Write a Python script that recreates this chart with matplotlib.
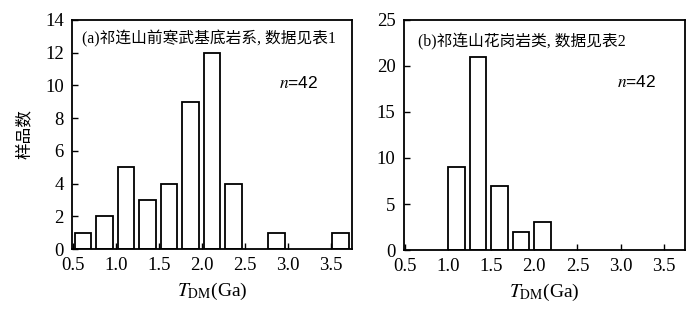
import matplotlib
matplotlib.use("Agg")
import matplotlib.pyplot as plt

plt.rcParams["font.family"] = ["Liberation Serif", "Noto Sans CJK SC"]
plt.rcParams["mathtext.fontset"] = "stix"

# bin left edges (Ga) and sample counts
bins_a = [0.5, 0.75, 1.0, 1.25, 1.5, 1.75, 2.0, 2.25, 2.75, 3.5]
counts_a = [1, 2, 5, 3, 4, 9, 12, 4, 1, 1]
bins_b = [1.0, 1.25, 1.5, 1.75, 2.0]
counts_b = [9, 21, 7, 2, 3]

xticks = [0.5, 1.0, 1.5, 2.0, 2.5, 3.0, 3.5]
yticks_a = [0, 2, 4, 6, 8, 10, 12, 14]
yticks_b = [0, 5, 10, 15, 20, 25]

title_a = "(a)祁连山前寒武基底岩系, 数据见表1"
title_b = "(b)祁连山花岗岩类, 数据见表2"
n_label = "$n$=42"

fig = plt.figure(figsize=(7.0, 3.21), dpi=100)
ax1 = fig.add_axes([0.103, 0.224, 0.400, 0.714])
ax2 = fig.add_axes([0.577, 0.221, 0.402, 0.717])


def draw(ax, bins, counts, offset, yticks, ylim, title, tpos, npos):
    left = [b + offset for b in bins]
    ax.bar(left, counts, width=0.195, align="edge", color="white",
           edgecolor="black", linewidth=1.3, zorder=2)
    ax.set_xlim(0.49, 3.75)
    ax.set_ylim(*ylim)
    ax.set_xticks(xticks)
    ax.set_xticklabels([f"{t:.1f}" for t in xticks])
    ax.set_yticks(yticks)
    ax.tick_params(direction="in", length=4, width=1.0, labelsize=13.5,
                   pad=6)
    for s in ax.spines.values():
        s.set_linewidth(1.3)
    ax.text(tpos[0], tpos[1], title, transform=ax.transAxes, fontsize=11.3,
            va="center", ha="left", fontweight="medium")
    ax.text(npos[0], npos[1], n_label, transform=ax.transAxes, fontsize=12.5,
            va="center", ha="left", family=["Liberation Sans", "DejaVu Sans"])
    ax.set_xlabel(r"$T_{\rm DM}$(Ga)", fontsize=14, labelpad=5)


draw(ax1, bins_a, counts_a, 0.02, yticks_a, (0, 14), title_a,
     (0.035, 0.917), (0.74, 0.725))
draw(ax2, bins_b, counts_b, 0.0, yticks_b, (0, 25), title_b,
     (0.05, 0.905), (0.757, 0.73))

ax1.set_ylabel("样品数", fontsize=12, family=["Noto Sans CJK SC"],
               labelpad=9)

fig.savefig("out.png", dpi=100, facecolor="white")
